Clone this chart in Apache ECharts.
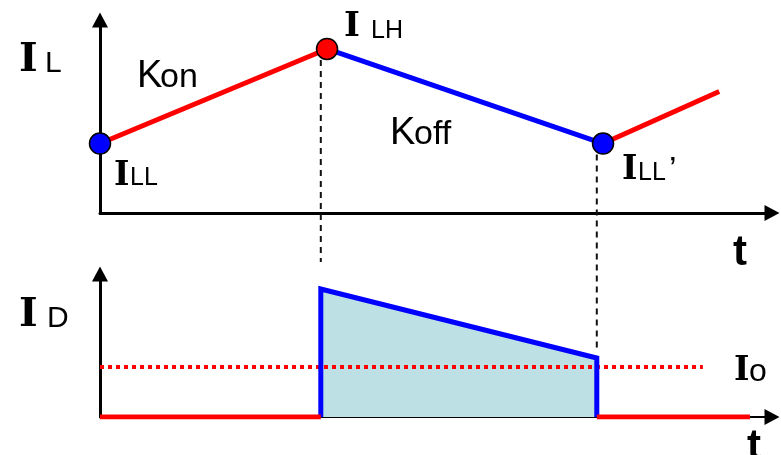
<!DOCTYPE html>
<html>
<head>
<meta charset="utf-8">
<script src="https://cdn.jsdelivr.net/npm/echarts@6/dist/echarts.min.js"></script>
<style>
  html, body { margin: 0; padding: 0; background: #fff; }
  #chart { width: 781px; height: 455px; }
</style>
</head>
<body>
<div id="chart"></div>
<script>
// top panel: inductor current I_L
var tL = [0, 4.73, 10.48, 12.9];
var iL = [3.6, 8.5, 3.6, 6.3];

// bottom panel: diode current I_D (switch instants, start/end of the off ramp)
var tSw = [4.6, 10.35];
var iD = [6.4, 2.95];
var tRedEnd = 13.54;
var io = 2.5;
var tIoEnd = 12.56;

// how far the dashed guides drop below the top axis (top-panel units)
var guideLow = [-2.54, -7.2];

var red = '#ff0000', blue = '#0000ff', ink = '#000';
var sans = 'Liberation Sans', serif = 'DejaVu Serif';

function seg(data, color, width, grid, extra) {
  var s = {
    type: 'line', data: data, xAxisIndex: grid, yAxisIndex: grid,
    showSymbol: false, silent: true,
    lineStyle: { color: color, width: width, cap: 'butt', join: 'miter' }
  };
  for (var k in extra) s[k] = extra[k];
  return s;
}

function axisX(idx, w) {
  return {
    gridIndex: idx, type: 'value', min: 0, max: 14,
    axisLine: { show: true, onZero: false, symbol: ['none', 'triangle'], symbolSize: [16, 15],
      lineStyle: { color: ink, width: w } },
    axisTick: { show: false }, axisLabel: { show: false }, splitLine: { show: false }
  };
}
function axisY(idx, max) {
  return {
    gridIndex: idx, type: 'value', min: 0, max: max,
    axisLine: { show: true, onZero: false, symbol: ['none', 'triangle'], symbolSize: [16, 15],
      lineStyle: { color: ink, width: 3 } },
    axisTick: { show: false }, axisLabel: { show: false }, splitLine: { show: false }
  };
}

// text: baseline is given, canvas 'middle' sits ~0.31em above it
function txt(s, x, base, size, family, weight) {
  return {
    type: 'text', x: x, y: base - size * 0.31, silent: true,
    style: { text: s, fontSize: size, fontFamily: family, fontWeight: weight || 'normal',
      fill: ink, align: 'left', verticalAlign: 'middle' }
  };
}

var pts = [];
for (var i = 0; i < tL.length; i++) pts.push([tL[i], iL[i]]);

var pulse = [[tSw[0], 0], [tSw[0], iD[0]], [tSw[1], iD[1]], [tSw[1], 0]];

var chart = echarts.init(document.getElementById('chart'), null, { renderer: 'canvas' });
chart.setOption({
  animation: false,
  grid: [
    { left: 100, top: 20, width: 672, height: 193 },
    { left: 100, top: 274, width: 672, height: 143 }
  ],
  xAxis: [axisX(0, 3), axisX(1, 2)],
  yAxis: [axisY(0, 10), axisY(1, 7.15)],
  series: [
    // dashed guides
    seg([[tSw[0], iL[1]], [tSw[0], guideLow[0]]], ink, 2, 0, { clip: false, z: 1,
      lineStyle: { color: '#111', width: 2, type: [6, 5] } }),
    seg([[tSw[1], iL[2]], [tSw[1], guideLow[1]]], ink, 2, 0, { clip: false, z: 1,
      lineStyle: { color: '#111', width: 2, type: [6, 5] } }),
    // I_L
    seg([pts[0], pts[1]], red, 5, 0),
    seg([pts[1], pts[2]], blue, 5, 0),
    seg([pts[2], pts[3]], red, 5, 0),
    {
      type: 'scatter', xAxisIndex: 0, yAxisIndex: 0, symbolSize: 21, silent: true, z: 5,
      data: [
        { value: pts[0], itemStyle: { color: blue } },
        { value: pts[1], itemStyle: { color: red } },
        { value: pts[2], itemStyle: { color: blue } }
      ],
      itemStyle: { borderColor: ink, borderWidth: 1.5, opacity: 1 }
    },
    // I_D
    seg(pulse, '#bde0e4', 0, 1, { areaStyle: { color: '#bde0e4', opacity: 1 },
      lineStyle: { width: 0, opacity: 0 } }),
    seg([[0, io], [tIoEnd, io]], red, 4, 1, { lineStyle: { color: red, width: 4, type: [4, 4] } }),
    seg(pulse, blue, 5, 1),
    seg([[0, 0], [tSw[0], 0]], red, 5, 1),
    seg([[tSw[1], 0], [tRedEnd, 0]], red, 5, 1)
  ],
  graphic: { elements: [
    txt('I', 19, 73, 40, serif, 'bold'), txt('L', 45, 73, 30, sans),
    txt('K', 137, 88, 38, sans), txt('on', 160, 88, 34, sans),
    txt('I', 344, 38, 34, serif, 'bold'), txt('LH', 371, 39, 25, sans),
    txt('K', 390, 145, 38, sans), txt('off', 414, 145, 34, sans),
    txt('I', 114, 187, 33, serif, 'bold'), txt('LL', 130, 186, 25, sans),
    txt('I', 622, 181, 33, serif, 'bold'), txt('LL', 638, 181, 25, sans), txt('\u2019', 669, 181, 34, sans),
    txt('t', 733, 266, 42, sans, 'bold'),
    txt('I', 19, 328, 40, serif, 'bold'), txt('D', 47, 328, 30, sans),
    txt('I', 734, 382, 33, serif, 'bold'), txt('o', 749, 382, 32, sans),
    txt('t', 747, 460, 42, sans, 'bold')
  ] }
});
</script>
</body>
</html>
